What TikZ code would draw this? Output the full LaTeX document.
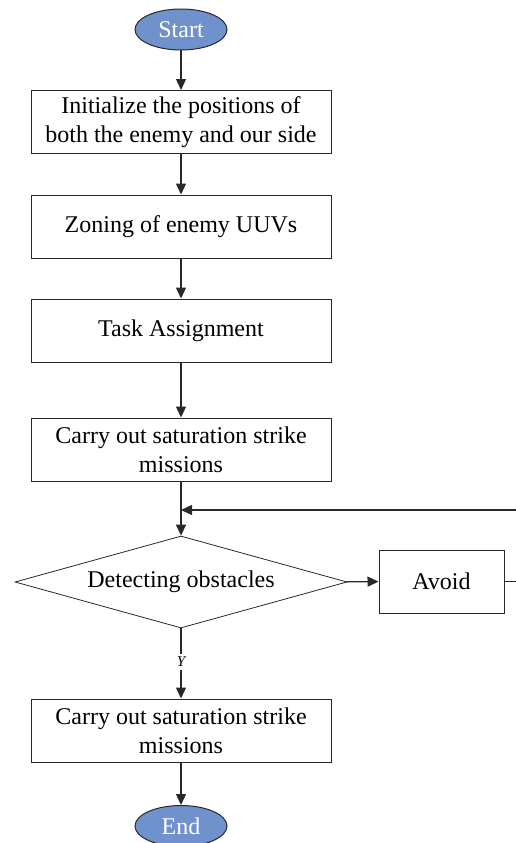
\documentclass[tikz,border=0pt]{standalone}
\usepackage{fontspec}
\setmainfont{Liberation Serif}
\usetikzlibrary{shapes.geometric,arrows.meta}
\definecolor{ovalblue}{RGB}{112,146,204}
\definecolor{linec}{RGB}{40,40,40}
\begin{document}
\begin{tikzpicture}[x=1pt,y=-1pt,
  font=\fontsize{24}{29}\selectfont,
  procbox/.style={draw=linec,line width=1pt,minimum width=300pt,minimum height=63pt,align=center,inner sep=0pt},
  oval/.style={ellipse,draw=linec,line width=1pt,fill=ovalblue,text=white,minimum width=92pt,minimum height=41pt,inner sep=0pt},
  decision/.style={diamond,draw=linec,line width=0.8pt,minimum width=332pt,minimum height=92pt,aspect=3.6,inner sep=0pt},
  conn/.style={draw=linec,line width=1.3pt,-{Triangle[length=11pt,width=10pt]}},
  plain/.style={draw=linec,line width=1.3pt}]
\useasboundingbox (0,0) rectangle (516,843);
\node[oval] (start) at (181,29.5) {Start};
\node[procbox] (b1) at (181,122) {Initialize the positions of\\both the enemy and our side};
\node[procbox] (b2) at (181,226.5) {Zoning of enemy UUVs};
\node[procbox] (b3) at (181,330.5) {Task Assignment};
\node[procbox] (b4) at (181,449.5) {Carry out saturation strike\\missions};
\node[decision] (dec) at (181,582) {Detecting obstacles};
\node[procbox,minimum width=125pt] (avoid) at (441.5,581.5) {Avoid};
\node[font=\fontsize{15}{18}\itshape] (ylab) at (181,662) {Y};
\node[procbox] (b5) at (181,730.5) {Carry out saturation strike\\missions};
\node[oval] (end) at (181,826) {End};
\coordinate (merge) at (181,510);
\coordinate (rt) at (520,510);
\draw[conn] (start) -- (b1);
\draw[conn] (b1) -- (b2);
\draw[conn] (b2) -- (b3);
\draw[conn] (b3) -- (b4);
\draw[conn] (b4) -- (dec);
\draw[conn] (dec) -- (avoid);
\draw[plain] (avoid.east) -- (avoid.east -| rt) -- (rt);
\draw[conn] (rt) -- (merge);
\draw[plain] (dec.south) -- (ylab.north);
\draw[conn] (ylab.south) -- (b5);
\draw[conn] (b5) -- (end);
\end{tikzpicture}
\end{document}
